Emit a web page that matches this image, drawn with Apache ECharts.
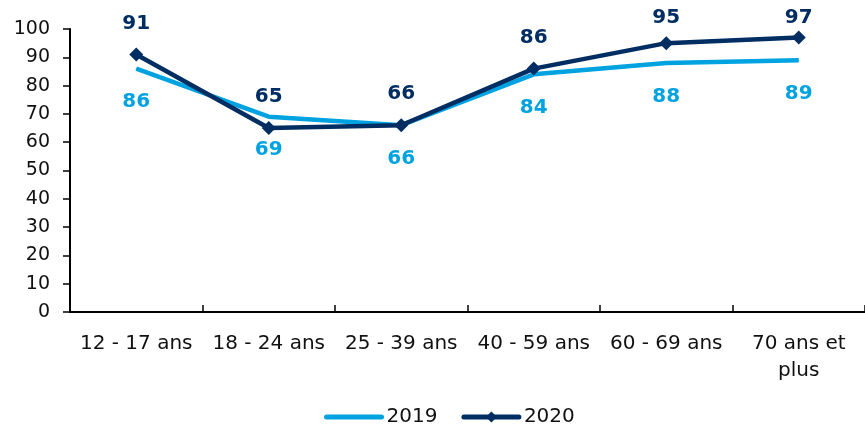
<!DOCTYPE html>
<html>
<head>
<meta charset="utf-8">
<script src="https://cdn.jsdelivr.net/npm/echarts@6/dist/echarts.min.js"></script>
<style>
  html, body { margin: 0; padding: 0; background: #fff; }
  #chart { width: 865px; height: 429px; }
</style>
</head>
<body>
<div id="chart"></div>
<script>
// données
const categories = ['12 - 17 ans', '18 - 24 ans', '25 - 39 ans', '40 - 59 ans', '60 - 69 ans', '70 ans et\nplus'];
const values2019 = [86, 69, 66, 84, 88, 89];
const values2020 = [91, 65, 66, 86, 95, 97];

const myChart = echarts.init(document.getElementById('chart'));
const option = {
    backgroundColor: '#fff',
    animation: false,
    grid: {
        left: 70,
        right: -9,
        top: 29,
        bottom: 117
    },
    legend: {
        top: 402,
        left: 319,
        itemWidth: 55,
        itemHeight: 14,
        itemGap: 24,
        lineStyle: { width: 5, cap: 'round' },
        textStyle: {
            fontFamily: 'DejaVu Sans',
            fontSize: 20,
            color: '#111'
        },
        data: [
            { name: '2019', itemStyle: { opacity: 0 } },
            { name: '2020' }
        ]
    },
    xAxis: {
        type: 'category',
        data: categories,
        boundaryGap: true,
        axisLine: { lineStyle: { color: '#000', width: 2 } },
        axisTick: { show: true, inside: true, length: 7, lineStyle: { color: '#000', width: 1.5 } },
        axisLabel: {
            color: '#111',
            fontFamily: 'DejaVu Sans',
            fontSize: 20,
            margin: 18,
            lineHeight: 27,
            interval: 0
        }
    },
    yAxis: {
        type: 'value',
        min: 0,
        max: 100,
        interval: 10,
        splitLine: { show: false },
        axisLine: { show: true, lineStyle: { color: '#000', width: 2 } },
        axisTick: { show: true, length: 7, lineStyle: { color: '#000', width: 1.5 } },
        axisLabel: {
            color: '#111',
            fontFamily: 'DejaVu Sans',
            fontSize: 19,
            margin: 20
        }
    },
    series: [
        {
            name: '2019',
            type: 'line',
            data: values2019,
            symbol: 'circle',
            symbolSize: 1,
            color: '#00a3e0',
            itemStyle: { color: '#00a3e0' },
            lineStyle: { width: 4.5, color: '#00a3e0' },
            label: {
                show: true,
                position: 'bottom',
                distance: 23,
                color: '#00a3e0',
                fontFamily: 'DejaVu Sans',
                fontWeight: 'bold',
                fontSize: 20
            },
            z: 2
        },
        {
            name: '2020',
            type: 'line',
            data: values2020,
            symbol: 'diamond',
            symbolSize: 14,
            color: '#002d62',
            itemStyle: { color: '#002d62' },
            lineStyle: { width: 4.5, color: '#002d62' },
            label: {
                show: true,
                position: 'top',
                distance: 14,
                color: '#002d62',
                fontFamily: 'DejaVu Sans',
                fontWeight: 'bold',
                fontSize: 20
            },
            // garder les étiquettes dans la zone visible
            labelLayout: function (params) {
                const r = params.labelRect;
                if (r && r.y < 8) {
                    return { dy: 8 - r.y };
                }
                return {};
            },
            z: 3
        }
    ]
};
myChart.setOption(option);
</script>
</body>
</html>
